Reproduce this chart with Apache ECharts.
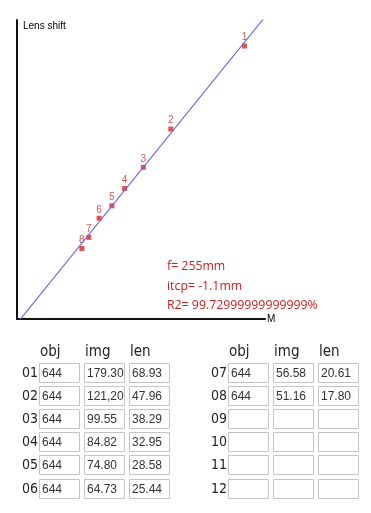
<!DOCTYPE html>
<html><head><meta charset="utf-8">
<script src="https://cdn.jsdelivr.net/npm/echarts@6/dist/echarts.min.js"></script>
<style>html,body{margin:0;padding:0;background:#fff}#c{width:371px;height:513px}</style>
</head><body><div id="c"></div>
<script>
// ---- data ----
const pointLabels = ['1','2','3','4','5','6','7','8'];
const magnification = [0.2784, 0.1882, 0.1546, 0.1317, 0.1161, 0.1005, 0.0879, 0.0794];
const lensShift = [68.93, 47.96, 38.29, 32.95, 28.58, 25.44, 20.61, 17.80];
const fitF = 255;
const fitItcp = -1.1;
const r2Text = '99.72999999999999';
const xMax = 0.3035;
const yMax = 75.5;

const rowLabels = ['01','02','03','04','05','06','07','08','09','10','11','12'];
const headerLabels = ['obj','img','len'];
const objText = ['644','644','644','644','644','644','644','644','','','',''];
const imgText = ['179.30','121,20','99.55','84.82','74.80','64.73','56.58','51.16','','','',''];
const lenText = ['68.93','47.96','38.29','32.95','28.58','25.44','20.61','17.80','','','',''];

// ---- build ----
const chart = echarts.init(document.getElementById('c'));
const scatterData = magnification.map((m, i) => [m, lensShift[i]]);
const fitLine = [[0, fitItcp], [xMax, fitF * xMax + fitItcp]];

const narrow = '"Liberation Sans Narrow","DejaVu Sans Condensed",sans-serif';
const graphic = [];
graphic.push({type:'text', style:{x:23, y:26, text:'Lens shift', fill:'#000', font:'10px "Liberation Sans", Arial, sans-serif', textVerticalAlign:'middle'}});
const redFont = '12.3px "Open Sans", sans-serif';
graphic.push({type:'text', style:{x:167, y:266, text:'f= ' + fitF + 'mm', fill:'#cc2020', font:redFont, textVerticalAlign:'middle'}});
graphic.push({type:'text', style:{x:167, y:286, text:'itcp= ' + fitItcp + 'mm', fill:'#cc2020', font:redFont, textVerticalAlign:'middle'}});
graphic.push({type:'text', style:{x:167, y:305, text:'R2= ' + r2Text + '%', fill:'#cc2020', font:redFont, textVerticalAlign:'middle'}});

const colX = [39, 84, 129];
const sideOffset = 189;
for (let s = 0; s < 2; s++) {
  headerLabels.forEach((h, c) => {
    graphic.push({type:'text', style:{x: colX[c] + s*sideOffset + 1, y: 352.5, text: h, fill:'#222', font:'15px ' + narrow, textVerticalAlign:'middle'}});
  });
}
rowLabels.forEach((lab, i) => {
  const s = i < 6 ? 0 : 1;
  const r = i % 6;
  const top = Math.round(363 + r * 23.1);
  const bx = s * sideOffset;
  graphic.push({type:'text', style:{x: 22 + bx, y: top + 10, text: lab, fill:'#222', font:'14px ' + narrow, textVerticalAlign:'middle'}});
  const vals = [objText[i], imgText[i], lenText[i]];
  vals.forEach((v, c) => {
    graphic.push({type:'rect', shape:{x: colX[c] + bx + 0.5, y: top + 0.5, width: 40, height: 19}, style:{fill:'#fff', stroke:'#c4c4c4', lineWidth:1}});
    if (v) graphic.push({type:'text', style:{x: colX[c] + bx + 3, y: top + 10.5, text: v, fill:'#333', font:'12px "Liberation Sans", Arial, sans-serif', textVerticalAlign:'middle'}});
  });
});

chart.setOption({
  animation: false,
  grid: {left: 17, top: 20, width: 248, height: 299, containLabel: false},
  xAxis: {
    type: 'value', min: 0, max: xMax,
    name: 'M', nameLocation: 'end', nameGap: 2,
    nameTextStyle: {color: '#000', fontSize: 10, fontFamily: 'Liberation Sans', padding: [0,0,14,0]},
    axisLine: {show: true, onZero: false, lineStyle: {color: '#111', width: 2}},
    axisTick: {show: false}, axisLabel: {show: false}, splitLine: {show: false}
  },
  yAxis: {
    type: 'value', min: 0, max: yMax,
    axisLine: {show: true, onZero: false, lineStyle: {color: '#111', width: 2}},
    axisTick: {show: false}, axisLabel: {show: false}, splitLine: {show: false}
  },
  series: [
    {
      type: 'scatter', data: scatterData, symbol: 'rect', symbolSize: 5, z: 2,
      itemStyle: {color: '#e02424'},
      label: {show: true, position: 'top', distance: 1, fontSize: 10, color: '#cc2a2a',
        fontFamily: 'Liberation Sans',
        formatter: p => pointLabels[p.dataIndex]}
    },
    {
      type: 'line', data: fitLine, symbol: 'none', clip: true, z: 3,
      lineStyle: {color: '#6666dd', width: 1.1}
    }
  ],
  graphic: graphic
});
</script></body></html>
